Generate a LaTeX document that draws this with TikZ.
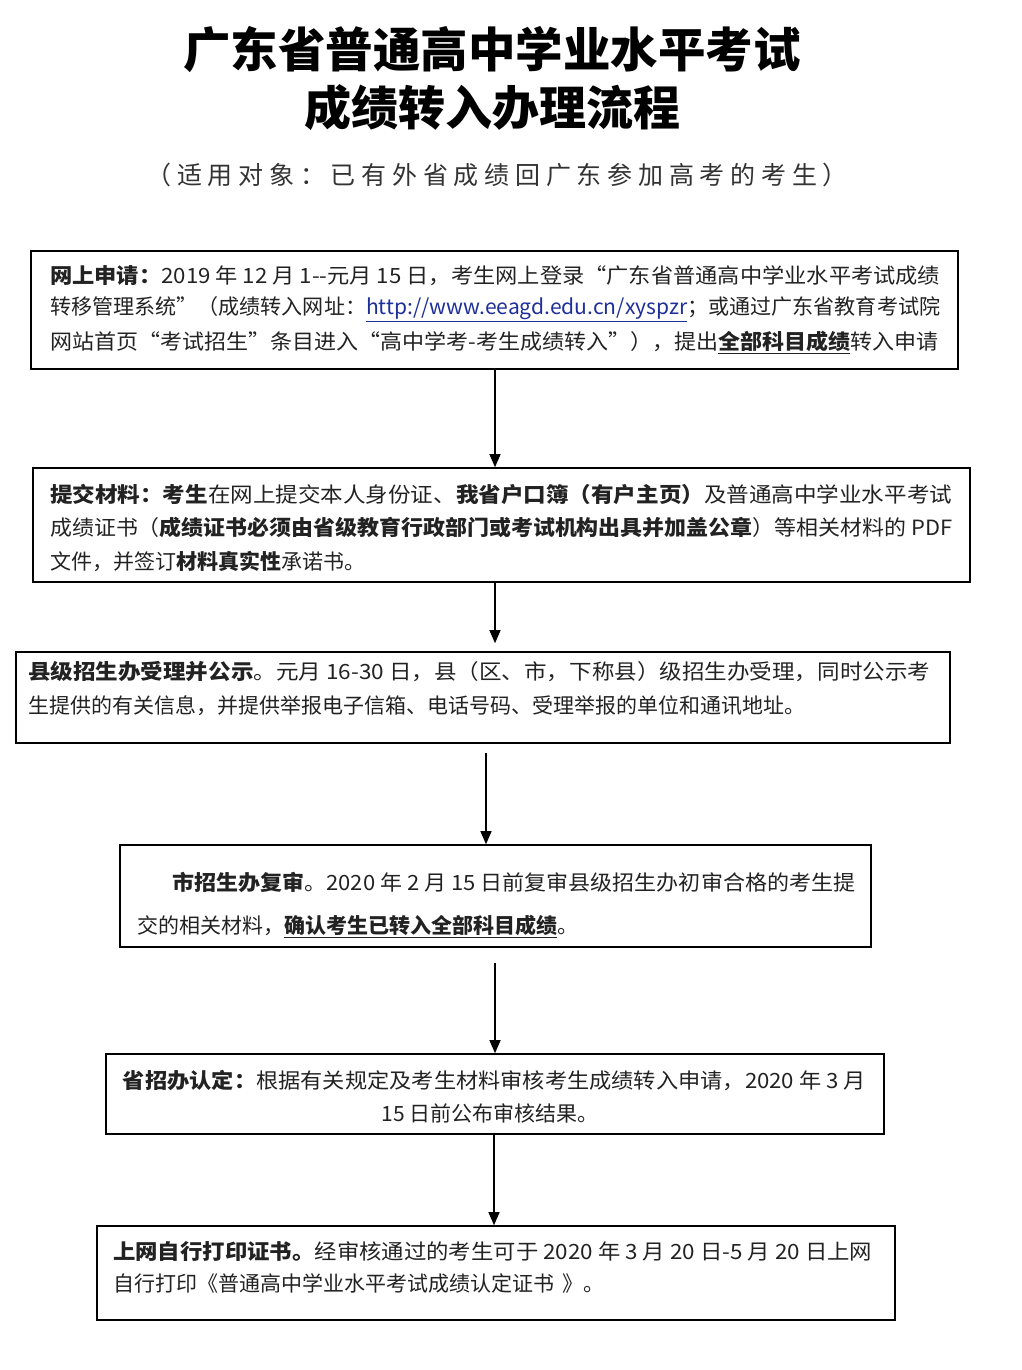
\documentclass[tikz,border=0pt]{standalone}
\usepackage{fontspec}
\usepackage{graphicx}
\setmainfont{Noto Sans CJK SC}
\usetikzlibrary{arrows.meta}
\definecolor{txtc}{HTML}{222222}
\definecolor{urlc}{HTML}{1F2F9A}
\newcommand{\fl}[2]{\resizebox{#1pt}{\height}{#2}}
\newcommand{\bu}[1]{\underline{\textbf{#1}}}
\begin{document}
\begin{tikzpicture}[x=1pt,y=-1pt,
  box/.style={draw=black,line width=1.6pt,inner sep=0pt},
  txt/.style={anchor=west,inner sep=0pt,text=txtc,font=\fontsize{21}{26}\selectfont},
  arr/.style={line width=1.3pt,-{Triangle[length=13pt,width=11pt]}}]
\useasboundingbox (0,0) rectangle (1021,1370);
% title
\node[inner sep=0pt,font=\fontsize{47.5}{52}\selectfont\bfseries] (t1) at (492,50) {广东省普通高中学业水平考试};
\node[inner sep=0pt,font=\fontsize{47}{52}\selectfont\bfseries] (t2) at (492,108) {成绩转入办理流程};
\node[inner sep=0pt,text=black!80,font=\fontsize{25}{30}\selectfont] (t3) at (497,175) {\addfontfeature{LetterSpace=23}（适用对象：已有外省成绩回广东参加高考的考生）};
% boxes
\node[box,minimum width=927pt,minimum height=118pt] (b1) at (494.5,310) {};
\node[box,minimum width=937pt,minimum height=114pt] (b2) at (501.5,525) {};
\node[box,minimum width=934pt,minimum height=91pt] (b3) at (483,697.5) {};
\node[box,minimum width=751pt,minimum height=102pt] (b4) at (495.5,896) {};
\node[box,minimum width=778pt,minimum height=80pt] (b5) at (495,1094) {};
\node[box,minimum width=798pt,minimum height=94pt] (b6) at (496,1273) {};
% box 1 text
\node[txt] (l11) at (50,276) {\fl{890}{\textbf{网上申请：}2019 年 12 月 1-{}-元月 15 日，考生网上登录“广东省普通高中学业水平考试成绩}};
\node[txt] (l12) at (50,309) {\fl{890}{转移管理系统”（成绩转入网址：\textcolor{urlc}{\underline{http://www.eeagd.edu.cn/xyspzr}}；或通过广东省教育考试院}};
\node[txt] (l13) at (50,342) {\fl{888}{网站首页“考试招生”条目进入“高中学考-考生成绩转入”），提出\bu{全部科目成绩}转入申请}};
% box 2 text
\node[txt] (l21) at (50,494) {\fl{902}{\textbf{提交材料：考生}在网上提交本人身份证、\textbf{我省户口簿（有户主页）}及普通高中学业水平考试}};
\node[txt] (l22) at (50,527) {\fl{902}{成绩证书（\textbf{成绩证书必须由省级教育行政部门或考试机构出具并加盖公章}）等相关材料的 PDF}};
\node[txt] (l23) at (50,561) {文件，并签订\textbf{材料真实性}承诺书。};
% box 3 text
\node[txt] (l31) at (28,672) {\fl{902}{\textbf{县级招生办受理并公示}。元月 16-30 日，县（区、市，下称县）级招生办受理，同时公示考}};
\node[txt] (l32) at (28,706) {生提供的有关信息，并提供举报电子信箱、电话号码、受理举报的单位和通讯地址。};
% box 4 text
\node[txt] (l41) at (172,882) {\fl{683}{\textbf{市招生办复审}。2020 年 2 月 15 日前复审县级招生办初审合格的考生提}};
\node[txt] (l42) at (137,926) {交的相关材料，\bu{确认考生已转入全部科目成绩}。};
% box 5 text
\node[txt,anchor=center] (l51) at (494.5,1080) {\fl{743}{\textbf{省招办认定：}根据有关规定及考生材料审核考生成绩转入申请，2020 年 3 月}};
\node[txt,anchor=center] (l52) at (490,1113) {15 日前公布审核结果。};
% box 6 text
\node[txt] (l61) at (113,1251) {\fl{759}{\textbf{上网自行打印证书。}经审核通过的考生可于 2020 年 3 月 20 日-5 月 20 日上网}};
\node[txt] (l62) at (113,1283) {自行打印《普通高中学业水平考试成绩认定证书\hspace{8pt}》。};
% arrows
\coordinate (xa) at (495,0);
\coordinate (xb) at (486,0);
\coordinate (xc) at (494,0);
\draw[arr] (b1.south -| xa) -- (b2.north -| xa);
\draw[arr] (b2.south -| xa) -- ([yshift=8pt]b3.north -| xa);
\draw[arr] ([yshift=-9pt]b3.south -| xb) -- (b4.north -| xb);
\draw[arr] ([yshift=-15pt]b4.south -| xa) -- (b5.north -| xa);
\draw[arr] (b5.south -| xc) -- (b6.north -| xc);
\end{tikzpicture}
\end{document}
